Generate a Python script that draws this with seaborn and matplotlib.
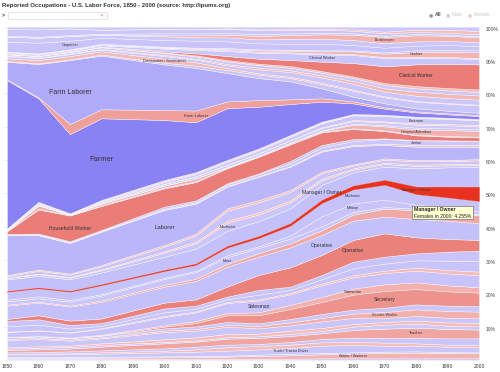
import matplotlib
matplotlib.use("Agg")
import matplotlib.pyplot as plt
from matplotlib.patches import Rectangle
import pandas as pd
import seaborn as sns

sns.set_theme(style="white")
plt.rcParams["font.family"] = ["Liberation Sans", "DejaVu Sans"]

years = [1850, 1860, 1870, 1880, 1900, 1910, 1920, 1930, 1940, 1950, 1960, 1970, 1980, 1990, 2000]

# -------------------------
# DATA: share of labor force (%), bottom of the stack first
# -------------------------
other_m = [0.4, 0.4, 0.4, 0.4, 0.4, 0.4, 0.4, 0.4, 0.4, 0.5, 0.5, 0.5, 0.5, 0.5, 0.5]
waiter_f = [0.2, 0.2, 0.2, 0.3, 0.4, 0.5, 0.6, 0.8, 1.0, 1.2, 1.4, 1.6, 1.7, 1.6, 1.5]
waiter_m = [0.3, 0.3, 0.3, 0.3, 0.3, 0.3, 0.3, 0.4, 0.5, 0.4, 0.4, 0.4, 0.4, 0.3, 0.3]
truck_m = [0.8, 0.8, 0.8, 0.9, 1.2, 1.3, 1.5, 1.6, 1.7, 2.2, 2.2, 1.8, 1.7, 1.6, 1.5]
telephone_f = [0.1, 0.2, 0.3, 0.4, 0.5, 0.7, 1.0, 1.0, 1.0, 1.0, 1.0, 0.9, 0.7, 0.6, 0.6]
technician_m = [0.5, 0.5, 0.6, 0.6, 0.7, 0.8, 0.8, 0.6, 0.8, 1.0, 1.2, 1.4, 1.7, 1.9, 2.1]
teacher_f = [0.6, 0.8, 0.8, 1.1, 1.5, 1.5, 1.8, 1.8, 1.8, 1.7, 2.3, 2.8, 3.0, 2.8, 2.6]
teacher_m = [0.5, 0.5, 0.5, 0.5, 0.4, 0.4, 0.4, 0.5, 0.6, 0.7, 1.0, 1.2, 1.2, 1.0, 1.0]
tailor_f = [0.4, 0.4, 0.4, 0.5, 0.8, 0.9, 1.0, 0.8, 1.0, 0.9, 0.8, 0.8, 0.9, 1.0, 1.0]
shoemaker_m = [2.2, 2.2, 1.5, 1.5, 2.2, 2.0, 2.2, 1.6, 1.6, 2.0, 1.8, 1.2, 1.4, 1.4, 1.4]
service_f = [0.3, 0.3, 0.3, 0.3, 0.4, 0.5, 0.5, 0.7, 0.9, 1.0, 1.3, 1.8, 2.0, 2.0, 2.0]
service_m = [0.5, 0.5, 0.5, 0.5, 0.7, 0.8, 0.9, 0.8, 1.0, 1.2, 1.2, 1.3, 1.5, 1.6, 1.7]
secretary_f = [0.0, 0.0, 0.02, 0.05, 0.5, 1.0, 2.0, 2.4, 3.0, 3.6, 4.5, 5.0, 4.6, 4.3, 4.0]
salesman_f = [0.1, 0.1, 0.1, 0.2, 0.4, 0.6, 0.7, 0.9, 1.2, 1.5, 1.8, 2.0, 2.0, 1.8, 1.6]
salesman_m = [1.5, 1.6, 1.5, 1.8, 2.5, 2.6, 3.0, 3.5, 3.2, 3.5, 3.4, 3.4, 3.5, 3.6, 3.6]
professional_f = [0.1, 0.1, 0.1, 0.2, 0.3, 0.3, 0.3, 0.4, 0.4, 0.5, 0.6, 0.7, 0.9, 1.0, 1.1]
printer_m = [1.6, 1.7, 1.1, 0.7, 1.1, 0.8, 0.8, 1.4, 0.9, 1.3, 2.1, 2.1, 2.2, 2.8, 3.2]
painter_m = [1.6, 1.6, 1.1, 0.8, 1.2, 0.9, 0.8, 1.4, 1.0, 1.3, 2.0, 2.1, 2.1, 2.7, 3.1]
operative_f = [0.6, 1.2, 1.3, 1.4, 1.7, 1.9, 3.0, 4.5, 5.8, 6.0, 6.5, 7.0, 4.8, 3.8, 3.2]
operative_m = [4.0, 3.8, 4.2, 5.0, 4.8, 5.5, 6.0, 5.5, 6.0, 6.0, 5.8, 5.0, 5.5, 5.5, 5.0]
nurse_f = [0.3, 0.3, 0.3, 0.4, 0.5, 0.7, 0.8, 1.0, 1.2, 1.4, 1.8, 2.4, 2.6, 2.6, 2.4]
miner_m = [1.0, 1.0, 1.2, 1.5, 1.8, 2.0, 2.0, 1.6, 1.4, 1.2, 0.8, 0.5, 0.5, 0.4, 0.3]
military_m = [0.5, 0.6, 0.5, 0.4, 0.4, 0.4, 0.6, 0.5, 0.9, 3.0, 2.6, 2.2, 1.2, 1.0, 0.8]
mechanic_m = [2.4, 2.4, 2.5, 2.7, 2.0, 1.8, 2.3, 2.5, 3.0, 4.0, 4.2, 4.5, 3.2, 3.0, 3.2]
manager_f = [0.15, 0.2, 0.2, 0.25, 0.3, 0.35, 0.45, 0.55, 0.7, 0.9, 1.1, 1.4, 2.2, 3.2, 4.255]
manager_m = [3.5, 3.5, 3.5, 3.5, 4.0, 4.5, 4.5, 4.5, 4.5, 4.5, 4.0, 4.0, 5.5, 5.8, 6.0]
machinist_m = [0.4, 0.5, 0.5, 0.7, 1.2, 1.6, 2.4, 2.0, 1.8, 1.4, 0.8, 0.8, 0.7, 0.6, 0.5]
librarian_f = [0.1, 0.2, 0.2, 0.3, 0.4, 0.5, 0.7, 0.6, 0.6, 0.5, 0.4, 0.4, 0.4, 0.4, 0.4]
lawyer_m = [0.5, 0.8, 0.7, 0.9, 1.4, 1.8, 3.0, 3.0, 2.5, 1.6, 0.8, 0.9, 1.0, 0.9, 1.0]
laborer_f = [0.3, 0.4, 0.3, 0.4, 0.5, 0.6, 0.7, 0.7, 0.6, 0.5, 0.4, 0.4, 0.4, 0.3, 0.4]
laborer_m = [12.0, 10.3, 9.2, 10.0, 10.5, 9.0, 6.5, 7.0, 7.0, 6.0, 5.5, 4.0, 4.0, 4.0, 3.7]
janitor_f = [0.05, 0.05, 0.05, 0.05, 0.1, 0.1, 0.2, 0.2, 0.2, 0.3, 0.3, 0.4, 0.5, 0.5, 0.5]
janitor_m = [0.2, 0.2, 0.2, 0.2, 0.3, 0.4, 0.5, 0.6, 0.8, 1.0, 1.2, 1.4, 1.4, 1.3, 1.2]
housekeeper_m = [0.1, 0.25, 0.3, 0.25, 0.6, 0.5, 0.3, 0.2, 0.7, 0.7, 0.6, 0.2, 0.1, 0.1, 0.1]
household_f = [0.8, 7.2, 7.7, 7.2, 5.5, 5.5, 4.5, 5.0, 5.0, 3.8, 3.0, 2.2, 1.4, 1.1, 1.0]
household_m = [0.1, 0.2, 0.1, 0.15, 0.3, 0.3, 0.1, 0.1, 0.1, 0.2, 0.2, 0.2, 0.2, 0.2, 0.2]
hospital_f = [0.1, 1.0, 0.1, 0.5, 0.5, 0.8, 0.2, 0.2, 0.3, 0.2, 1.1, 1.2, 1.6, 1.8, 1.7]
hospital_m = [0.05, 0.1, 0.05, 0.1, 0.1, 0.1, 0.1, 0.1, 0.1, 0.2, 0.3, 0.4, 0.5, 0.5, 0.5]
gardener_m = [0.1, 0.3, 0.1, 0.3, 0.4, 0.5, 0.6, 0.6, 0.7, 0.7, 0.8, 0.8, 0.9, 0.9, 0.9]
foreman_f = [0.0, 0.0, 0.0, 0.05, 0.1, 0.1, 0.1, 0.1, 0.1, 0.2, 0.3, 0.3, 0.4, 0.4, 0.4]
foreman_m = [0.2, 0.3, 0.1, 0.3, 0.5, 0.6, 0.8, 0.8, 0.9, 1.2, 1.4, 1.6, 1.6, 1.5, 1.4]
fisherman_m = [0.2, 0.3, 0.1, 0.2, 0.3, 0.3, 0.3, 0.3, 0.3, 0.2, 0.2, 0.2, 0.2, 0.2, 0.2]
farmer_f = [0.1, 0.1, 0.1, 0.2, 0.3, 0.3, 0.3, 0.3, 0.3, 0.3, 0.2, 0.2, 0.2, 0.2, 0.2]
farmer_m = [44.5, 31.0, 23.8, 24.5, 18.0, 15.0, 15.5, 12.5, 9.3, 6.0, 3.2, 1.8, 1.3, 1.0, 0.9]
farm_laborer_f = [0.2, 0.3, 3.0, 2.7, 3.0, 3.5, 2.0, 2.0, 1.4, 1.0, 0.6, 0.4, 0.3, 0.3, 0.3]
farm_laborer_m = [5.3, 10.0, 19.2, 16.1, 13.7, 12.8, 8.5, 6.6, 5.4, 3.0, 1.4, 1.2, 0.9, 0.8, 0.7]
engineer_m = [0.2, 0.2, 0.2, 0.3, 0.5, 0.7, 0.9, 1.0, 1.0, 1.3, 1.8, 1.8, 2.0, 2.1, 2.2]
dressmaker_f = [0.8, 1.0, 1.0, 1.0, 1.2, 1.0, 0.6, 0.4, 0.4, 0.4, 0.3, 0.3, 0.2, 0.2, 0.2]
designer_m = [0.6, 0.6, 0.6, 0.5, 0.8, 0.8, 0.8, 1.2, 1.4, 1.6, 1.8, 1.4, 1.6, 1.5, 1.5]
cook_f = [0.2, 0.2, 0.2, 0.2, 0.3, 0.3, 0.4, 0.5, 0.5, 0.6, 0.8, 1.0, 1.2, 1.3, 1.3]
cook_m = [0.4, 0.4, 0.4, 0.5, 0.6, 0.7, 0.8, 0.8, 0.8, 0.8, 0.9, 1.0, 1.0, 1.0, 1.0]
clerk_f = [0.05, 0.05, 0.05, 0.1, 0.2, 0.3, 0.4, 0.4, 0.5, 0.5, 0.5, 0.6, 0.7, 0.7, 0.8]
clerical_f = [0.05, 0.05, 0.05, 0.1, 0.3, 0.6, 1.2, 1.5, 1.8, 2.8, 4.0, 5.0, 6.5, 7.2, 7.5]
clerical_m = [0.3, 0.3, 0.3, 0.4, 0.8, 1.0, 1.5, 1.8, 2.0, 2.2, 2.4, 2.5, 2.0, 1.8, 1.6]
clergy_m = [0.3, 0.3, 0.3, 0.3, 0.3, 0.3, 0.3, 0.3, 0.3, 0.3, 0.3, 0.3, 0.3, 0.3, 0.3]
cashier_f = [0.0, 0.0, 0.0, 0.02, 0.1, 0.2, 0.3, 0.4, 0.5, 0.6, 0.8, 1.0, 1.4, 1.6, 1.7]
cashier_m = [0.1, 0.1, 0.1, 0.1, 0.2, 0.2, 0.3, 0.3, 0.3, 0.3, 0.3, 0.4, 0.5, 0.6, 0.6]
carpenter_m = [3.0, 3.2, 2.6, 1.8, 2.0, 2.1, 2.0, 1.8, 1.8, 2.0, 1.6, 1.4, 1.4, 1.4, 1.3]
butcher_m = [1.5, 1.5, 1.4, 0.9, 1.1, 1.1, 1.2, 1.2, 1.5, 1.5, 1.5, 1.4, 1.3, 1.2, 1.2]
bookkeeper_f = [0.0, 0.0, 0.02, 0.05, 0.3, 0.5, 0.8, 1.0, 1.1, 1.3, 1.6, 1.8, 1.8, 1.6, 1.4]
bookkeeper_m = [0.3, 0.3, 0.3, 0.3, 0.6, 0.6, 0.5, 0.6, 0.5, 0.5, 0.4, 0.4, 0.4, 0.3, 0.3]
blacksmith_m = [2.0, 2.2, 2.0, 1.2, 1.3, 1.2, 1.2, 1.2, 1.0, 0.9, 0.8, 0.7, 0.6, 0.6, 0.6]
accountant_f = [0.0, 0.0, 0.0, 0.0, 0.05, 0.1, 0.2, 0.2, 0.3, 0.3, 0.4, 0.5, 0.7, 0.9, 1.0]
accountant_m = [0.7, 0.8, 0.5, 0.9, 0.65, 0.7, 0.5, 0.8, 0.7, 0.6, 0.8, 1.5, 0.9, 0.9, 1.3]

layers = [
    ("Other", "m", other_m),
    ("Waiter / Waitress", "f", waiter_f),
    ("Waiter / Waitress", "m", waiter_m),
    ("Truck / Tractor Driver", "m", truck_m),
    ("Telephone Operator", "f", telephone_f),
    ("Technician", "m", technician_m),
    ("Teacher", "f", teacher_f),
    ("Teacher", "m", teacher_m),
    ("Tailor", "f", tailor_f),
    ("Shoemaker", "m", shoemaker_m),
    ("Service Worker", "f", service_f),
    ("Service Worker", "m", service_m),
    ("Secretary", "f", secretary_f),
    ("Salesman", "f", salesman_f),
    ("Salesman", "m", salesman_m),
    ("Professional", "f", professional_f),
    ("Printer", "m", printer_m),
    ("Painter", "m", painter_m),
    ("Operative", "f", operative_f),
    ("Operative", "m", operative_m),
    ("Nurse", "f", nurse_f),
    ("Miner", "m", miner_m),
    ("Military", "m", military_m),
    ("Mechanic", "m", mechanic_m),
    ("Manager / Owner", "f", manager_f),
    ("Manager / Owner", "m", manager_m),
    ("Machinist", "m", machinist_m),
    ("Librarian", "f", librarian_f),
    ("Lawyer", "m", lawyer_m),
    ("Laborer", "f", laborer_f),
    ("Laborer", "m", laborer_m),
    ("Janitor", "f", janitor_f),
    ("Janitor", "m", janitor_m),
    ("Housekeeper", "m", housekeeper_m),
    ("Household Worker", "f", household_f),
    ("Household Worker", "m", household_m),
    ("Hospital Attendant", "f", hospital_f),
    ("Hospital Attendant", "m", hospital_m),
    ("Gardener", "m", gardener_m),
    ("Foreman", "f", foreman_f),
    ("Foreman", "m", foreman_m),
    ("Fisherman", "m", fisherman_m),
    ("Farmer", "f", farmer_f),
    ("Farmer", "m", farmer_m),
    ("Farm Laborer", "f", farm_laborer_f),
    ("Farm Laborer", "m", farm_laborer_m),
    ("Engineer", "m", engineer_m),
    ("Dressmaker / Seamstress", "f", dressmaker_f),
    ("Designer", "m", designer_m),
    ("Cook", "f", cook_f),
    ("Cook", "m", cook_m),
    ("Clerk", "f", clerk_f),
    ("Clerical Worker", "f", clerical_f),
    ("Clerical Worker", "m", clerical_m),
    ("Clergy", "m", clergy_m),
    ("Cashier", "f", cashier_f),
    ("Cashier", "m", cashier_m),
    ("Carpenter", "m", carpenter_m),
    ("Butcher", "m", butcher_m),
    ("Bookkeeper", "f", bookkeeper_f),
    ("Bookkeeper", "m", bookkeeper_m),
    ("Blacksmith", "m", blacksmith_m),
    ("Accountant", "f", accountant_f),
    ("Accountant", "m", accountant_m),
]

# labels drawn in the middle of a layer: (job, sex, census year, font size)
labels = [
    ("Farm Laborer", "m", 1870, 5.0),
    ("Farmer", "m", 1880, 5.4),
    ("Laborer", "m", 1900, 4.3),
    ("Household Worker", "f", 1870, 3.6),
    ("Farm Laborer", "f", 1910, 2.9),
    ("Carpenter", "m", 1870, 2.7),
    ("Dressmaker / Seamstress", "f", 1900, 2.7),
    ("Clerical Worker", "m", 1950, 2.8),
    ("Bookkeeper", "f", 1970, 2.7),
    ("Cashier", "f", 1980, 2.7),
    ("Clerical Worker", "f", 1980, 3.5),
    ("Foreman", "m", 1980, 2.7),
    ("Hospital Attendant", "f", 1980, 2.7),
    ("Janitor", "m", 1980, 2.7),
    ("Machinist", "m", 1920, 2.7),
    ("Miner", "m", 1920, 2.7),
    ("Manager / Owner", "m", 1950, 3.6),
    ("Manager / Owner", "f", 1980, 2.7),
    ("Mechanic", "m", 1960, 2.7),
    ("Military", "m", 1960, 2.7),
    ("Operative", "m", 1950, 3.6),
    ("Operative", "f", 1960, 3.6),
    ("Salesman", "m", 1930, 3.6),
    ("Salesman", "f", 1960, 3.0),
    ("Secretary", "f", 1970, 3.6),
    ("Service Worker", "f", 1970, 2.7),
    ("Teacher", "f", 1980, 2.9),
    ("Truck / Tractor Driver", "m", 1940, 2.7),
    ("Waiter / Waitress", "f", 1960, 2.7),
]

# -------------------------
# STACK (percent of each census)
# -------------------------
df = pd.DataFrame({i: vals for i, (_, _, vals) in enumerate(layers)}, index=years)
df = df.div(df.sum(axis=1), axis=0) * 100
bottoms = df.cumsum(axis=1) - df

male_pal = sns.blend_palette(["#cdc9fa", "#8881f5"], n_colors=101)
female_pal = sns.blend_palette(["#f8d0cd", "#ea7d77"], n_colors=101)
highlight = ("Manager / Owner", "f")

colors = []
for name, sex, vals in layers:
    peak = max(vals)
    if (name, sex) == highlight:
        colors.append("#e8321f")
    elif sex == "m":
        colors.append(male_pal[int(min(peak / 45, 1) * 100)])
    else:
        colors.append(female_pal[int(min(peak / 7.5, 1) ** 0.7 * 100)])

fig = plt.figure(figsize=(5, 3.72), dpi=100)
ax = fig.add_axes([7 / 500, 12 / 372, 472 / 500, 333.3 / 372])

polys = ax.stackplot(df.index, df.T.values, colors=colors,
                     edgecolor=(1, 1, 1, 0.7), linewidth=0.35)
hi = [i for i, l in enumerate(layers) if (l[0], l[1]) == highlight][0]
polys[hi].set_edgecolor("#e8321f")
polys[hi].set_linewidth(0.25)
polys[hi].set_zorder(3)

for name, sex, year, size in labels:
    i = [k for k, l in enumerate(layers) if l[0] == name and l[1] == sex][0]
    y = bottoms.loc[year, i] + df.loc[year, i] / 2
    ax.text(year, y, name, ha="center", va="center", fontsize=size,
            color="#333333", zorder=5)

ax.set_xlim(1850, 2000)
ax.set_ylim(0, 100)
sns.despine(ax=ax, left=True, bottom=True)

ax.set_xticks(range(1850, 2001, 10))
ax.set_xticklabels([str(y) for y in range(1850, 2001, 10)])
ax.set_yticks(range(0, 101, 10))
ax.set_yticklabels(["" if v == 0 else f"{v}%" for v in range(0, 101, 10)])
ax.tick_params(axis="x", length=0, pad=3.2, labelsize=3.6, labelcolor="#333333")
ax.tick_params(axis="y", left=True, right=False, labelleft=False, labelright=True,
               length=2, width=0.4, color="#dddddd", pad=3, labelsize=3.6,
               labelcolor="#444444")
for lbl in ax.get_yticklabels():
    lbl.set_verticalalignment("top")
ax.grid(False)


def px(x, y):
    return x / 500, 1 - y / 372


# title, search box and sex filter
fig.text(*px(2, 6), "Reported Occupations - U.S. Labor Force, 1850 - 2000 (source: http://ipums.org)",
         fontsize=4.3, fontweight="bold", color="#333333", va="center")
fig.text(*px(2, 15.5), ">", fontsize=3.6, fontweight="bold", color="#333333", va="center")
fig.patches.append(Rectangle(px(8, 19), 99 / 500, 7 / 372, transform=fig.transFigure,
                             facecolor="white", edgecolor="#dddddd", linewidth=0.5))
fig.text(*px(101, 15.5), "×", fontsize=4.5, color="#e87070", va="center", ha="center")

fig.text(*px(431, 15), "●", fontsize=3.5, color="#999999", va="center", ha="center",
         family="DejaVu Sans")
fig.text(*px(434.5, 15), "All", fontsize=3.6, fontweight="bold", color="#555555", va="center")
fig.text(*px(448, 15), "●", fontsize=3.5, color="#cdc9f7", va="center", ha="center",
         family="DejaVu Sans")
fig.text(*px(451.5, 15), "Male", fontsize=3.6, color="#cccccc", va="center")
fig.text(*px(470, 15), "●", fontsize=3.5, color="#f7cbc8", va="center", ha="center",
         family="DejaVu Sans")
fig.text(*px(473.5, 15), "Female", fontsize=3.6, color="#cccccc", va="center")

# tooltip for the highlighted layer
fig.patches.append(Rectangle(px(413.3, 220.3), 60.4 / 500, 13.6 / 372,
                             transform=fig.transFigure, facecolor="#777777",
                             edgecolor="none", alpha=0.35, zorder=6))
fig.patches.append(Rectangle(px(412.3, 219.3), 60.4 / 500, 13.6 / 372,
                             transform=fig.transFigure, facecolor="#ffffd2",
                             edgecolor="#888888", linewidth=0.6, zorder=7))
fig.text(*px(414.5, 209.3), "Manager / Owner", fontsize=3.7, fontweight="bold",
         color="#222222", va="center", zorder=8)
fig.text(*px(414.5, 216), f"Females in 2000: {manager_f[-1]:.3f}%", fontsize=3.6,
         color="#222222", va="center", zorder=8)

fig.savefig("out.png", dpi=100, facecolor="white")
